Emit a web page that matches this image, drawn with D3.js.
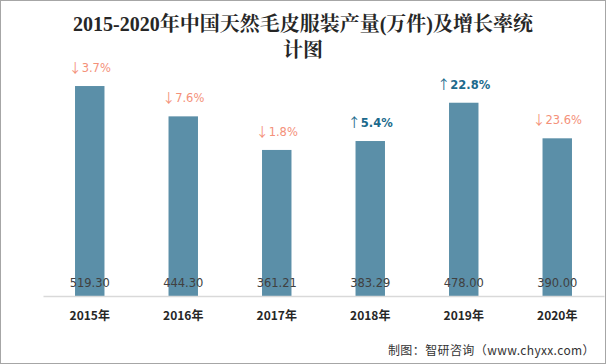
<!DOCTYPE html>
<html><head><meta charset="utf-8">
<script src="https://cdn.jsdelivr.net/npm/d3@7/dist/d3.min.js"></script>
<style>body{margin:0;background:#fff}svg{display:block}</style>
</head><body>
<svg id="c" width="606" height="364"></svg>
<script>
const years = ["2015年","2016年","2017年","2018年","2019年","2020年"];
const output = [519.30, 444.30, 361.21, 383.29, 478.00, 390.00];
const outputLabels = ["519.30","444.30","361.21","383.29","478.00","390.00"];
const growth = [-3.7, -7.6, -1.8, 5.4, 22.8, -23.6];
const titleLines = ["2015-2020年中国天然毛皮服装产量(万件)及增长率统","计图"];
const source = "制图：智研咨询（www.chyxx.com）";

const svg = d3.select("#c");
const W = 606, H = 364;
svg.append("rect").attr("x",0.5).attr("y",0.5).attr("width",W-1).attr("height",H-1)
  .attr("fill","#fff").attr("stroke","#a6a6a6");

const x = d3.scaleBand().domain(years).range([43, 604]).paddingInner(0.685).paddingOuter(0.3425);
const y = d3.scaleLinear().domain([0, 600]).range([296, 53.4]);

// title
svg.append("g").selectAll("text").data(titleLines).join("text")
  .attr("x", 303).attr("y",(d,i)=>31+i*26).attr("text-anchor","middle")
  .attr("font-family","'Liberation Serif','Noto Serif CJK SC','Noto Sans CJK SC',serif")
  .attr("font-size",20).attr("font-weight","bold").attr("fill","#262626")
  .text(d=>d);

// bars
svg.append("g").selectAll("rect").data(output).join("rect")
  .attr("x",(d,i)=>x(years[i])).attr("width",x.bandwidth())
  .attr("y",d=>y(d)).attr("height",d=>y(0)-y(d))
  .attr("fill","#5b8fa8");

// axis
const axis = d3.axisBottom(x).tickSize(0).tickPadding(15);
const ag = svg.append("g").attr("transform","translate(0,296)").call(axis);
ag.select(".domain").attr("stroke","#d9d9d9").attr("stroke-width",1.5);
ag.selectAll("text").attr("font-family","'Noto Sans CJK SC',sans-serif").attr("font-size",12)
  .attr("font-weight","bold").attr("fill","#262626");

// value labels
svg.append("g").selectAll("text").data(output).join("text")
  .attr("x",(d,i)=>x(years[i])+x.bandwidth()/2).attr("y",287)
  .attr("text-anchor","middle").attr("font-family","'DejaVu Sans',sans-serif").attr("font-size",11.5)
  .attr("fill","#404040").text((d,i)=>outputLabels[i]);

// growth labels
const gl = svg.append("g").selectAll("text").data(growth).join("text")
  .attr("x",(d,i)=>x(years[i])+x.bandwidth()/2).attr("y",(d,i)=>y(output[i])-14)
  .attr("text-anchor","middle").attr("font-family","'DejaVu Sans',sans-serif").attr("font-size",11.5)
  .attr("font-weight",d=>d>0?"bold":"normal")
  .attr("fill",d=>d>0?"#1b6a8c":"#f4917a");
gl.append("tspan").attr("font-family","'Noto Sans CJK SC',sans-serif").attr("font-size",13)
  .attr("font-weight","normal").text(d=>d>0?"↑":"↓");
gl.append("tspan").text(d=>Math.abs(d).toFixed(1)+"%");

// source
svg.append("text").attr("x",595).attr("y",355).attr("text-anchor","end")
  .attr("font-family","'Noto Sans CJK SC',sans-serif").attr("font-size",12).attr("fill","#333")
  .attr("letter-spacing",0.4)
  .text(source);
</script>
</body></html>
